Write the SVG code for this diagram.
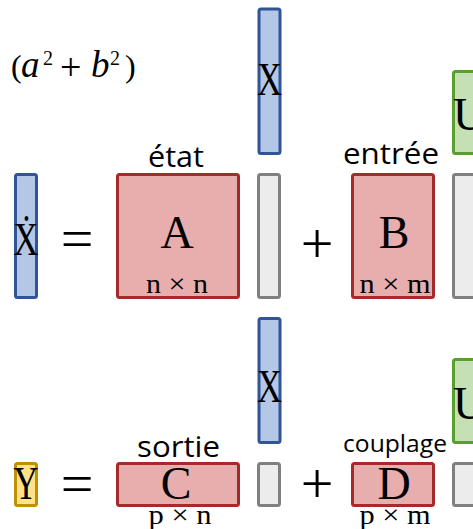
<svg xmlns="http://www.w3.org/2000/svg" width="473" height="529" viewBox="0 0 473 529">
  <style>
    .blue { fill: #b4c7e7; stroke: #2f5597; stroke-width: 3; }
    .red { fill: #e8adad; stroke: #a52a2a; stroke-width: 3; }
    .green { fill: #c5e0b4; stroke: #5a9e2f; stroke-width: 3; }
    .yellow { fill: #ffe38a; stroke: #bf9000; stroke-width: 3; }
    .gray { fill: #ececec; stroke: #808080; stroke-width: 3; }
    .sym { font-family: "Liberation Serif", "DejaVu Serif", serif; font-size: 46px; fill: #000; text-anchor: middle; }
    .sym-l { font-family: "Liberation Serif", "DejaVu Serif", serif; font-size: 46px; fill: #000; text-anchor: start; }
    .dim { font-family: "Liberation Serif", "DejaVu Serif", serif; font-size: 27px; fill: #000; text-anchor: middle; }
    .op { font-family: "Liberation Serif", "DejaVu Serif", serif; font-size: 58px; fill: #000; text-anchor: middle; }
    .lbl { font-family: "Open Sans", "Liberation Sans", sans-serif; font-size: 30px; fill: #000; }
    .lbl-s { font-family: "Open Sans", "Liberation Sans", sans-serif; font-size: 24.5px; fill: #000; }
    .math { font-family: "Liberation Serif", "DejaVu Serif", serif; font-size: 32px; fill: #000; }
    .var { font-family: "Liberation Serif", "DejaVu Serif", serif; font-size: 37px; font-style: italic; fill: #000; }
    .sup { font-family: "Liberation Serif", "DejaVu Serif", serif; font-size: 20px; fill: #000; }
    .plus { font-family: "Liberation Serif", "DejaVu Serif", serif; font-size: 38px; fill: #000; }
  </style>

  <!-- formula caption -->
  <g id="caption">
    <text class="math" x="11" y="77">(</text>
    <text class="var" x="21" y="77">a</text>
    <text class="sup" x="43" y="65">2</text>
    <text class="plus" x="60" y="80">+</text>
    <text class="var" x="91" y="77">b</text>
    <text class="sup" x="110" y="65">2</text>
    <text class="math" x="125" y="77">)</text>
  </g>

  <!-- state equation: Xdot = A X + B U -->
  <g id="xdot">
    <rect class="blue" x="15.5" y="174.5" width="21" height="123" rx="2"/>
    <text class="sym" x="26" y="255" textLength="25" lengthAdjust="spacingAndGlyphs">Ẋ</text>
  </g>
  <g id="eq1">
    <text class="op" x="77" y="258">=</text>
  </g>
  <g id="matA">
    <text class="lbl" x="148" y="167" textLength="56" lengthAdjust="spacingAndGlyphs">état</text>
    <rect class="red" x="117.5" y="174.5" width="121" height="123" rx="2"/>
    <text class="sym" x="177" y="248">A</text>
    <text class="dim" x="177" y="293" textLength="62" lengthAdjust="spacingAndGlyphs">n × n</text>
  </g>
  <g id="x1">
    <rect class="blue" x="259" y="9" width="21" height="144.5" rx="2"/>
    <text class="sym" x="269.5" y="95" textLength="25" lengthAdjust="spacingAndGlyphs">X</text>
  </g>
  <g id="x1slot">
    <rect class="gray" x="258.5" y="174.5" width="21" height="123" rx="2"/>
  </g>
  <g id="plus1">
    <text class="op" x="317" y="263">+</text>
  </g>
  <g id="matB">
    <text class="lbl" x="343" y="164" textLength="96" lengthAdjust="spacingAndGlyphs">entrée</text>
    <rect class="red" x="352.5" y="174.5" width="81" height="123" rx="2"/>
    <text class="sym" x="394" y="248">B</text>
    <text class="dim" x="395" y="293" textLength="71" lengthAdjust="spacingAndGlyphs">n × m</text>
  </g>
  <g id="u1">
    <rect class="green" x="453.5" y="71.5" width="24" height="82" rx="2"/>
    <text class="sym-l" x="453" y="130">U</text>
  </g>
  <g id="u1slot">
    <rect class="gray" x="453.5" y="174.5" width="24" height="123" rx="2"/>
  </g>

  <!-- output equation: Y = C X + D U -->
  <g id="y">
    <rect class="yellow" x="15.5" y="463.5" width="21" height="42" rx="2"/>
    <text class="sym" x="26" y="499" textLength="25" lengthAdjust="spacingAndGlyphs">Y</text>
  </g>
  <g id="eq2">
    <text class="op" x="77" y="503">=</text>
  </g>
  <g id="matC">
    <text class="lbl" x="137" y="457" textLength="83" lengthAdjust="spacingAndGlyphs">sortie</text>
    <rect class="red" x="117.5" y="463.5" width="121" height="42" rx="2"/>
    <text class="sym" x="176" y="499">C</text>
    <text class="dim" x="180" y="524" textLength="63" lengthAdjust="spacingAndGlyphs">p × n</text>
  </g>
  <g id="x2">
    <rect class="blue" x="259" y="318.5" width="21" height="124" rx="2"/>
    <text class="sym" x="269.5" y="402" textLength="25" lengthAdjust="spacingAndGlyphs">X</text>
  </g>
  <g id="x2slot">
    <rect class="gray" x="258.5" y="463.5" width="21" height="42" rx="2"/>
  </g>
  <g id="plus2">
    <text class="op" x="317" y="503">+</text>
  </g>
  <g id="matD">
    <text class="lbl-s" x="343" y="452" textLength="104" lengthAdjust="spacingAndGlyphs">couplage</text>
    <rect class="red" x="352.5" y="463.5" width="81" height="42" rx="2"/>
    <text class="sym" x="394" y="499">D</text>
    <text class="dim" x="395" y="524" textLength="71" lengthAdjust="spacingAndGlyphs">p × m</text>
  </g>
  <g id="u2">
    <rect class="green" x="453.5" y="359.5" width="24" height="83" rx="2"/>
    <text class="sym-l" x="453" y="419">U</text>
  </g>
  <g id="u2slot">
    <rect class="gray" x="453.5" y="463.5" width="24" height="42" rx="2"/>
  </g>

  <!-- no connectors in this diagram -->
  <g id="connectors"/>
</svg>
